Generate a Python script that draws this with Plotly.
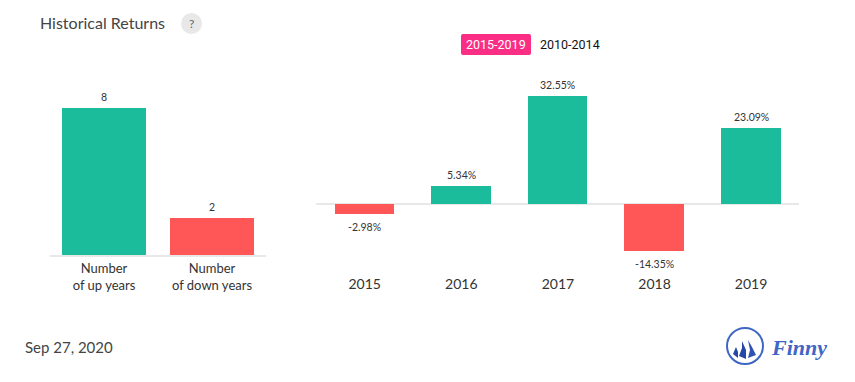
import plotly.graph_objects as go

W, H = 855, 382
count_labels = ["Number<br>of up years", "Number<br>of down years"]
count_values = [8, 2]
years = ["2015", "2016", "2017", "2018", "2019"]
returns = [-2.98, 5.34, 32.55, -14.35, 23.09]
return_labels = ["-2.98%", "5.34%", "32.55%", "-14.35%", "23.09%"]
UP, DOWN = "#1ABC9C", "#FF5757"
LOGO = "#3F66C4"

def px(x): return x / W
def py(y): return 1 - y / H

fig = go.Figure()
fig.add_trace(go.Bar(x=count_labels, y=count_values, width=0.778,
    marker=dict(color=[UP, DOWN], line_width=0), hoverinfo="skip", xaxis="x", yaxis="y"))
fig.add_trace(go.Bar(x=years, y=returns, width=0.617,
    marker=dict(color=[UP if v > 0 else DOWN for v in returns], line_width=0),
    hoverinfo="skip", xaxis="x2", yaxis="y2"))

shapes = [
    dict(type="circle", xref="paper", yref="paper", x0=px(181), x1=px(202), y0=py(34), y1=py(13),
         fillcolor="#E8E8E8", line_width=0),
    dict(type="circle", xref="paper", yref="paper", x0=px(727), x1=px(763), y0=py(364), y1=py(328),
         fillcolor="rgba(0,0,0,0)", line=dict(color=LOGO, width=2)),
]
def poly(pts, color):
    d = "M " + " L ".join(f"{px(x):.5f},{py(y):.5f}" for x, y in pts) + " Z"
    return dict(type="path", xref="paper", yref="paper", path=d, fillcolor=color, line_width=0)
shapes += [
    poly([(748, 340), (752, 347), (756, 355), (748, 358), (750, 350)], "#2F52B4"),
    poly([(742, 341), (746, 350), (746, 359), (739, 356), (742, 348)], "#2448A8"),
    poly([(736, 347), (738, 352), (738, 358), (733, 354)], "#2448A8"),
    dict(type="path", xref="paper", yref="paper", fillcolor="#FB2E86", line_width=0,
         path=" ".join([
            f"M {px(463):.5f},{py(34):.5f}", f"L {px(529):.5f},{py(34):.5f}",
            f"Q {px(531):.5f},{py(34):.5f} {px(531):.5f},{py(36):.5f}",
            f"L {px(531):.5f},{py(53):.5f}",
            f"Q {px(531):.5f},{py(55):.5f} {px(529):.5f},{py(55):.5f}",
            f"L {px(463):.5f},{py(55):.5f}",
            f"Q {px(461):.5f},{py(55):.5f} {px(461):.5f},{py(53):.5f}",
            f"L {px(461):.5f},{py(36):.5f}",
            f"Q {px(461):.5f},{py(34):.5f} {px(463):.5f},{py(34):.5f} Z"])),
]

def note(text, x, y, size, color, family="Lato", anchor="left"):
    return dict(text=text, xref="paper", yref="paper", x=px(x), y=py(y), xanchor=anchor, yanchor="middle",
                showarrow=False, font=dict(family=family, size=size, color=color))

def value_note(i, y, text, xref, yref):
    return dict(text=text, x=i, y=y, xref=xref, yref=yref, xanchor="center", yanchor="middle",
                yshift=11 if y > 0 else -13, showarrow=False,
                font=dict(family="Lato", size=10.5, color="#333333"))

annotations = [
    note("Historical Returns", 38, 22, 16, "#444444"),
    note("?", 191.5, 24, 12, "#666666", anchor="center"),
    note("2015-2019", 496, 45, 12.5, "#FFFFFF", family="Roboto", anchor="center"),
    note("2010-2014", 570, 45, 12.5, "#111111", family="Roboto", anchor="center"),
    note("Sep 27, 2020", 23, 347, 15, "#444444"),
    note("<b><i>Finny</i></b>", 799, 347, 22, LOGO, family="Liberation Serif", anchor="center"),
]
annotations += [value_note(i, v, str(v), "x", "y") for i, v in enumerate(count_values)]
annotations += [value_note(i, v, t, "x2", "y2") for i, (v, t) in enumerate(zip(returns, return_labels))]

fig.update_layout(
    width=W, height=H, autosize=False, margin=dict(l=0, r=0, t=0, b=0),
    paper_bgcolor="white", plot_bgcolor="white", showlegend=False, bargap=0,
    shapes=shapes, annotations=annotations,
    xaxis=dict(domain=[px(50), px(266)], range=[-0.5, 1.5], type="category", showgrid=False,
               showline=True, linecolor="#E8E8E8", linewidth=2, ticks="",
               tickfont=dict(family="Lato", size=13, color="#333333"), fixedrange=True),
    yaxis=dict(domain=[py(255), py(60)], range=[0, 10.62], visible=False, fixedrange=True),
    xaxis2=dict(domain=[px(316.4), px(799.4)], range=[-0.5, 4.5], type="category", anchor="y2", showgrid=False,
                showline=False, ticks="", tickfont=dict(family="Lato", size=14, color="#333333"), fixedrange=True),
    yaxis2=dict(domain=[py(274), py(60)], range=[-21.2, 43.5], anchor="x2", showticklabels=False, showgrid=False,
                zeroline=True, zerolinecolor="#E8E8E8", zerolinewidth=2, showline=False, fixedrange=True),
)
fig.write_html("out.html", config=dict(displayModeBar=False),
               post_script="document.body.style.margin='0';")
